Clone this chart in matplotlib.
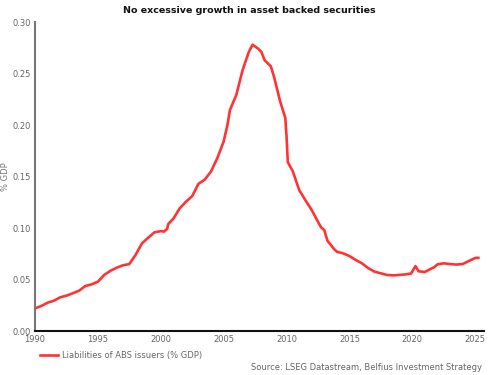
import matplotlib
matplotlib.use("Agg")
import matplotlib.pyplot as plt
from matplotlib.ticker import FormatStrFormatter, MultipleLocator

# Data (decimal year, % of GDP as fraction)
years = [1990.0, 1990.5, 1991.0, 1991.5, 1992.0, 1992.5, 1993.0, 1993.5, 1994.0, 1994.5,
         1995.0, 1995.5, 1996.0, 1996.5, 1997.0, 1997.5, 1998.0, 1998.5, 1999.0, 1999.5,
         2000.0, 2000.25, 2000.5, 2000.6, 2001.0, 2001.5, 2002.0, 2002.5, 2003.0, 2003.5,
         2004.0, 2004.5, 2005.0, 2005.3, 2005.5, 2006.0, 2006.5, 2007.0, 2007.3, 2007.75,
         2008.0, 2008.25, 2008.5, 2008.75, 2009.0, 2009.5, 2009.9, 2010.0, 2010.1, 2010.5,
         2011.0, 2011.5, 2012.0, 2012.5, 2012.75, 2013.0, 2013.25, 2013.75, 2014.0, 2014.5,
         2015.0, 2015.5, 2016.0, 2016.5, 2017.0, 2017.5, 2018.0, 2018.5, 2019.0, 2019.5,
         2019.9, 2020.25, 2020.5, 2021.0, 2021.25, 2021.75, 2022.0, 2022.5, 2023.0, 2023.5,
         2024.0, 2024.5, 2025.0, 2025.25]
values = [0.022, 0.0243, 0.0275, 0.0294, 0.0327, 0.0343, 0.0366, 0.0391, 0.0437, 0.0453,
          0.0479, 0.0544, 0.0585, 0.0615, 0.0638, 0.065, 0.074, 0.085, 0.0906, 0.0958,
          0.097, 0.0965, 0.099, 0.104, 0.109, 0.119, 0.1255, 0.131, 0.143, 0.147,
          0.155, 0.168, 0.184, 0.200, 0.2146, 0.229, 0.253, 0.271, 0.278, 0.274,
          0.271, 0.263, 0.260, 0.257, 0.247, 0.2226, 0.207, 0.189, 0.164, 0.155,
          0.137, 0.127, 0.1175, 0.106, 0.1006, 0.098, 0.0877, 0.080, 0.077, 0.0754,
          0.0728, 0.069, 0.0657, 0.061, 0.0576, 0.056, 0.0544, 0.054, 0.0545, 0.055,
          0.0558, 0.063, 0.058, 0.0573, 0.059, 0.062, 0.0647, 0.0657, 0.065, 0.0645,
          0.065, 0.068, 0.0709, 0.071]
series_label = "Liabilities of ABS issuers (% GDP)"
title = "No excessive growth in asset backed securities"
source = "Source: LSEG Datastream, Belfius Investment Strategy"

plt.rcParams['font.family'] = ['DejaVu Sans']

fig = plt.figure(figsize=(5, 3.75), dpi=100)
ax = fig.add_axes([0.07, 0.1173, 0.898, 0.824])

line, = ax.plot(years, values, color="#FF3333", lw=1.9, label=series_label)

ax.set_xlim(1990, 2025.7)
ax.set_ylim(0, 0.30)
ax.xaxis.set_major_locator(MultipleLocator(5))
ax.yaxis.set_major_locator(MultipleLocator(0.05))
ax.yaxis.set_major_formatter(FormatStrFormatter('%.2f'))
ax.tick_params(axis='both', length=0, labelsize=6, labelcolor="#666666", pad=3)

for s in ['top', 'right']:
    ax.spines[s].set_visible(False)
ax.spines['left'].set_color("#777777")
ax.spines['left'].set_linewidth(1.5)
ax.spines['bottom'].set_color("#111111")
ax.spines['bottom'].set_linewidth(1.5)

ax.set_ylabel("% GDP", fontsize=6, color="#777777", labelpad=2)
fig.text(0.498, 0.973, title, ha='center', va='center', fontsize=6.8, fontweight='bold', color="#111111")

fig.legend(handles=[line], loc='center left', bbox_to_anchor=(0.065, 0.053), frameon=False,
           fontsize=6, labelcolor="#666666", handlelength=2.1, handletextpad=0.5)
fig.text(0.964, 0.021, source, ha='right', va='center', fontsize=6, color="#666666")

fig.savefig("out.png", dpi=100)
